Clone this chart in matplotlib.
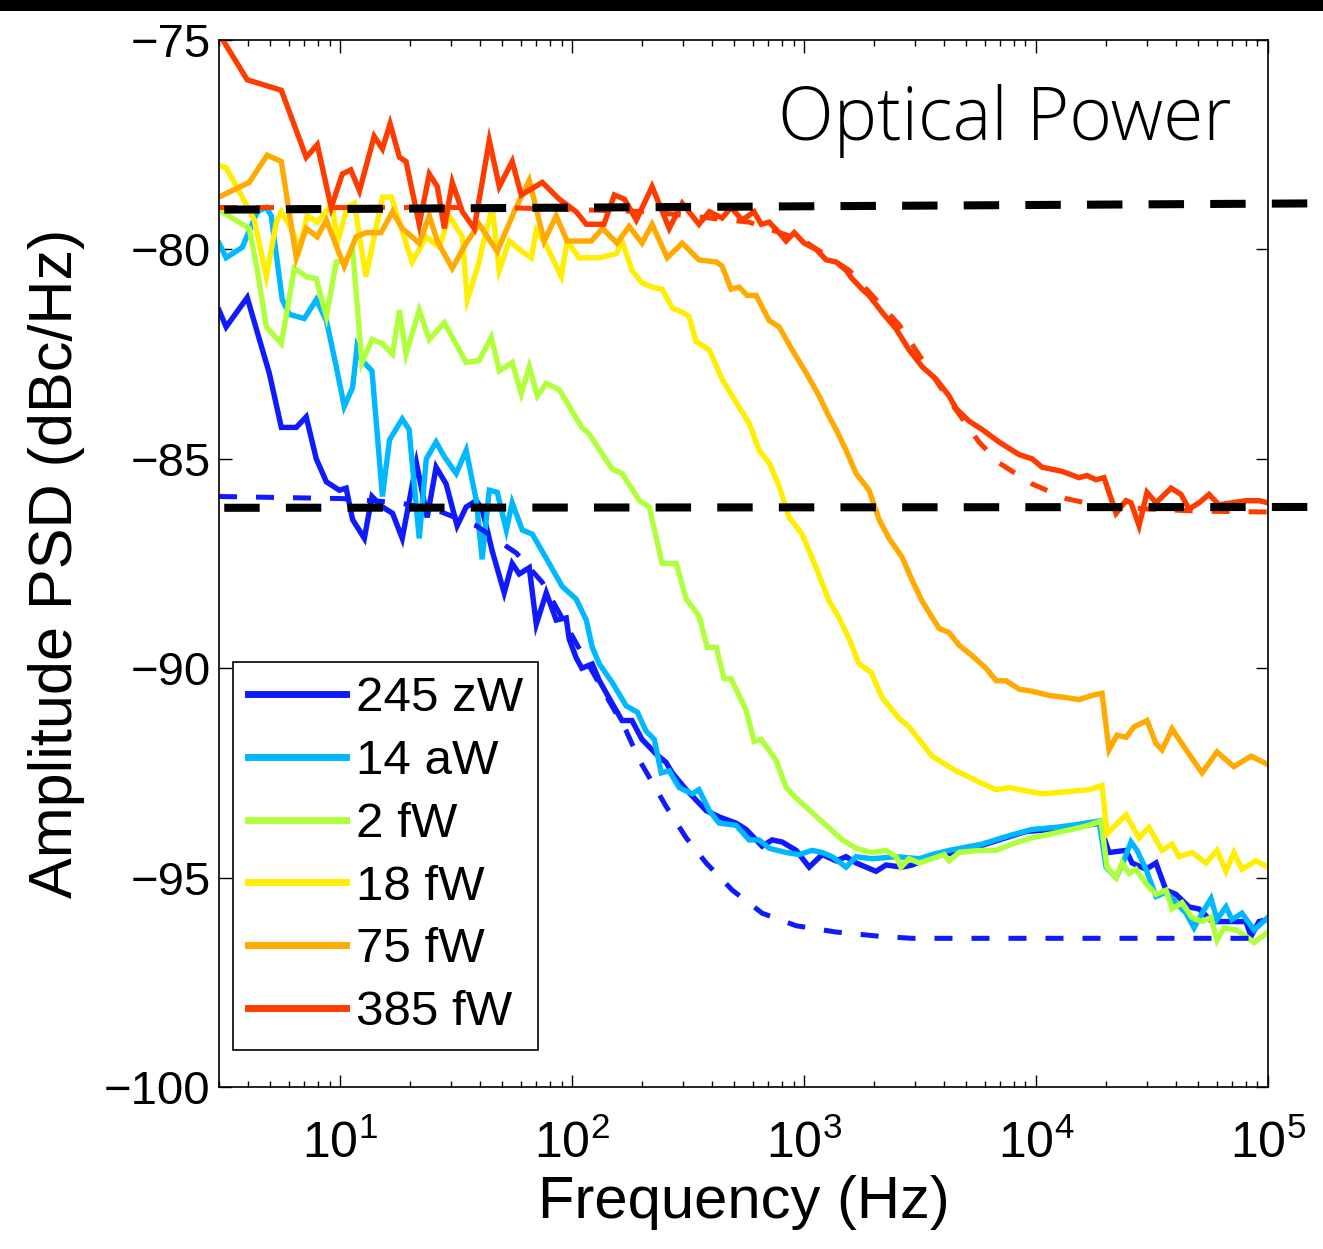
import matplotlib
matplotlib.use("Agg")
import matplotlib.pyplot as plt
from matplotlib.patches import Rectangle

plt.rcParams['font.family'] = ['Liberation Sans', 'DejaVu Sans']
plt.rcParams['mathtext.fontset'] = 'custom'
plt.rcParams['mathtext.rm'] = 'Liberation Sans'
plt.rcParams['mathtext.it'] = 'Liberation Sans:italic'
plt.rcParams['axes.unicode_minus'] = True

# 245 zW
f_245zw = [3.0, 3.22, 3.97, 4.48, 4.94, 5.57, 6.46, 7.13, 7.88, 8.71, 9.91, 10.6, 11.3, 12.7, 13.7, 15.2, 16.8,
           18.5, 21.3, 23.7, 25.9, 28.6, 31.9, 34.9, 38.6, 40.9, 45.2, 50.9, 55.1, 59.1, 65.3, 70.0, 77.3, 85.3,
           94.2, 97.0, 104, 110, 122, 131, 149, 164, 181, 200, 230, 254, 270, 310, 378, 430, 509, 562, 659, 728,
           804, 924, 1051, 1196, 1374, 1517, 1675, 2042, 2255, 2643, 2921, 3565, 4989, 6930, 9052, 11722, 14850,
           18690, 20640, 24430, 25930, 29790, 32900, 36330, 40110, 45640, 50460, 57370, 63320, 69940, 80360,
           84490, 91470, 100000]
db_245zw = [-81.45, -81.85, -81.15, -82.15, -82.95, -84.25, -84.25, -84.0, -85.0, -85.55, -85.75, -85.7, -86.45,
            -86.9, -85.9, -86.15, -86.3, -86.9, -85.1, -86.4, -85.2, -85.6, -86.6, -86.15, -86.0, -86.2, -87.2,
            -88.2, -87.5, -87.75, -87.6, -88.95, -88.2, -88.85, -88.8, -89.3, -89.75, -90.0, -89.9, -90.3, -90.85,
            -91.25, -91.25, -91.7, -92.05, -92.25, -92.5, -92.9, -93.4, -93.55, -93.7, -93.85, -94.25, -94.1,
            -94.15, -94.35, -94.75, -94.45, -94.6, -94.5, -94.65, -94.85, -94.7, -94.75, -94.7, -94.5, -94.35,
            -94.1, -93.9, -93.85, -93.8, -93.7, -94.4, -94.35, -94.65, -94.8, -94.65, -95.3, -95.4, -95.7, -95.75,
            -96.05, -96.05, -96.05, -96.05, -96.4, -96.05, -96.0]

# 14 aW
f_14aw = [3.0, 3.22, 3.78, 4.39, 4.80, 5.04, 5.62, 6.03, 7.00, 7.88, 8.71, 9.61, 10.4, 11.3, 11.8, 12.4, 13.7,
          15.2, 16.3, 18.5, 19.8, 21.9, 23.5, 25.9, 28.1, 31.6, 34.9, 38.6, 40.9, 43.9, 47.5, 52.0, 55.1, 60.9,
          67.3, 79.6, 90.6, 104, 115, 122, 131, 149, 171, 191, 208, 226, 242, 262, 289, 329, 352, 390, 430, 509,
          579, 640, 707, 836, 951, 1082, 1196, 1321, 1517, 1675, 1963, 2492, 3131, 3565, 4217, 5848, 7648, 9610,
          12190, 14280, 18690, 20040, 22130, 23480, 25670, 27240, 29790, 32900, 36330, 40110, 44350, 47980,
          51980, 56800, 60250, 65880, 69940, 77200, 87050, 100000]
db_14aw = [-79.85, -80.2, -79.95, -79.1, -79.0, -79.2, -81.2, -81.55, -81.65, -81.2, -81.7, -82.8, -83.75, -83.3,
           -82.35, -82.65, -82.9, -85.9, -84.55, -84.05, -84.3, -86.9, -85.0, -84.6, -84.95, -85.35, -84.8, -86.0,
           -87.4, -85.75, -85.8, -86.7, -86.05, -86.7, -86.8, -87.5, -88.05, -88.35, -88.85, -89.5, -89.9, -90.35,
           -90.9, -91.05, -91.5, -91.7, -92.5, -92.45, -92.85, -93.0, -92.9, -93.4, -93.7, -93.75, -94.1, -94.1,
           -94.3, -94.4, -94.45, -94.35, -94.4, -94.5, -94.75, -94.5, -94.55, -94.5, -94.55, -94.45, -94.35,
           -94.2, -94.0, -93.85, -93.8, -93.75, -93.65, -94.75, -95.0, -94.7, -94.15, -94.35, -94.8, -95.45,
           -95.35, -95.6, -95.85, -96.2, -95.85, -95.5, -96.0, -95.7, -96.0, -95.85, -96.25, -95.95]

# 2 fW
f_2fw = [3.0, 3.42, 4.05, 4.39, 4.80, 5.57, 6.34, 7.13, 7.88, 8.71, 9.61, 10.6, 11.3, 12.4, 13.7, 15.2, 16.8,
         18.0, 19.2, 21.9, 24.2, 28.1, 34.9, 39.7, 44.8, 48.5, 55.1, 60.3, 65.3, 70.7, 77.3, 87.9, 110, 118,
         149, 164, 195, 215, 244, 281, 310, 352, 382, 418, 452, 484, 562, 608, 653, 757, 836, 924, 1082, 1245,
         1459, 1675, 1963, 2255, 2492, 2619, 2835, 3131, 3565, 4013, 4217, 4656, 5675, 6724, 7880, 9610, 11722,
         14280, 16920, 19060, 20240, 22130, 23480, 25180, 26970, 29790, 32900, 36330, 38570, 42590, 47020,
         51980, 56800, 60250, 64590, 72710, 80360, 87050, 100000]
db_2fw = [-79.05, -79.25, -79.5, -80.5, -81.85, -82.25, -80.45, -80.65, -80.7, -81.6, -80.3, -80.25, -80.0, -82.7,
          -82.15, -82.25, -82.5, -81.45, -82.5, -81.45, -82.15, -81.75, -82.7, -82.65, -82.1, -82.9, -82.7, -83.45,
          -82.8, -83.5, -83.2, -83.35, -84.25, -84.4, -85.25, -85.35, -86.0, -86.15, -87.5, -87.5, -88.35, -88.75,
          -89.5, -89.5, -90.25, -90.25, -91.0, -91.75, -91.7, -92.2, -92.85, -93.1, -93.45, -93.75, -94.1, -94.3,
          -94.4, -94.35, -94.5, -94.75, -94.55, -94.65, -94.55, -94.45, -94.6, -94.4, -94.35, -94.35, -94.2,
          -94.05, -93.95, -93.85, -93.75, -93.65, -94.75, -95.0, -94.65, -94.9, -94.8, -95.15, -95.4, -95.3,
          -95.75, -95.6, -95.95, -96.05, -95.95, -96.5, -96.2, -96.25, -96.4, -96.55, -96.3]

# 18 fW
f_18fw = [3.0, 3.22, 3.78, 4.26, 4.80, 5.30, 5.57, 6.15, 6.66, 7.20, 7.96, 9.24, 9.71, 10.7, 11.5, 12.9, 14.0,
          15.2, 16.6, 18.0, 20.4, 23.5, 26.7, 29.5, 33.6, 35.3, 39.7, 40.9, 45.2, 48.5, 53.5, 59.1, 66.6, 70.0,
          77.3, 89.7, 95.1, 107, 131, 155, 164, 181, 200, 221, 244, 270, 298, 319, 342, 390, 443, 509, 579, 640,
          707, 780, 861, 980, 1127, 1282, 1416, 1563, 1726, 1945, 2168, 2567, 2835, 3226, 3565, 3936, 4519, 5141,
          5848, 6724, 7648, 10612, 13460, 16920, 19250, 20240, 24430, 27800, 30700, 34930, 38570, 41320, 47020,
          54060, 60250, 65880, 71290, 77200, 88800, 100000]
db_18fw = [-78.0, -78.05, -78.75, -79.3, -80.65, -79.35, -79.1, -79.5, -80.0, -79.2, -79.35, -78.9, -79.85, -79.0,
           -78.9, -80.65, -79.7, -78.75, -78.75, -79.35, -80.3, -79.7, -79.95, -79.2, -79.7, -81.2, -80.3, -79.95,
           -79.0, -80.5, -79.8, -80.0, -80.2, -79.55, -79.9, -80.65, -79.8, -80.2, -80.2, -80.1, -79.8, -80.5,
           -80.8, -80.9, -80.95, -81.4, -81.5, -81.6, -82.2, -82.4, -83.1, -83.65, -84.15, -84.8, -85.1, -85.65,
           -86.4, -86.8, -87.6, -88.4, -88.8, -89.3, -89.9, -90.1, -90.7, -91.2, -91.4, -91.8, -92.1, -92.25,
           -92.45, -92.6, -92.75, -92.9, -92.85, -93.0, -92.95, -92.9, -92.8, -93.95, -93.5, -94.05, -93.8, -94.35,
           -94.2, -94.5, -94.4, -94.65, -94.35, -94.85, -94.4, -94.8, -94.6, -94.75]

# 75 fW
f_75fw = [3.0, 4.05, 4.84, 5.57, 6.46, 7.13, 7.96, 8.71, 10.4, 11.7, 12.9, 15.0, 16.8, 18.5, 21.9, 24.2, 26.2,
          30.4, 34.9, 39.7, 47.5, 56.2, 65.3, 75.7, 85.3, 95.1, 121, 135, 156, 176, 200, 221, 257, 298, 352, 418,
          443, 484, 525, 568, 621, 707, 780, 888, 1020, 1161, 1282, 1374, 1517, 1675, 1905, 2104, 2323, 2643,
          2921, 3226, 3820, 4217, 4656, 5297, 6083, 6724, 7423, 8446, 9610, 11372, 13460, 15310, 17430, 19250,
          20640, 22340, 24430, 26440, 30090, 32900, 34930, 38570, 44350, 51980, 60250, 71290, 84490, 100000]
db_75fw = [-78.75, -78.4, -77.75, -77.9, -80.2, -79.5, -79.7, -79.3, -80.4, -79.7, -79.6, -79.6, -79.1, -79.5,
           -79.85, -79.2, -79.8, -80.45, -79.85, -79.4, -80.05, -79.1, -78.35, -79.8, -79.2, -79.8, -79.8, -79.5,
           -79.85, -79.45, -79.85, -79.4, -80.2, -79.85, -80.25, -80.3, -80.4, -80.95, -80.9, -81.1, -81.1,
           -81.7, -81.85, -82.4, -82.95, -83.5, -84.0, -84.3, -84.8, -85.35, -85.75, -86.45, -86.9, -87.35, -87.9,
           -88.4, -89.05, -89.15, -89.45, -89.7, -90.0, -90.3, -90.3, -90.5, -90.55, -90.65, -90.7, -90.75, -90.65,
           -90.6, -91.95, -91.6, -91.65, -91.4, -91.25, -91.8, -91.95, -91.45, -91.95, -92.5, -92.0, -92.35, -92.1,
           -92.3]

# 385 fW
f_385fw = [3.0, 3.97, 5.57, 7.13, 7.96, 9.14, 10.2, 11.1, 12.1, 14.0, 15.2, 16.4, 18.0, 19.2, 21.9, 24.2, 26.2,
           28.1, 30.4, 33.6, 37.8, 43.9, 48.5, 55.1, 60.3, 74.3, 87.9, 104, 115, 137, 152, 168, 189, 221, 262,
           298, 352, 390, 443, 484, 541, 608, 653, 707, 780, 836, 906, 1000, 1127, 1245, 1374, 1517, 1611, 1778,
           1905, 2168, 2492, 2835, 3226, 3707, 4217, 4519, 5141, 5848, 6930, 8446, 9610, 10612, 12940, 15310,
           16590, 18140, 19630, 22130, 24430, 25670, 27800, 30090, 32900, 38190, 42170, 45640, 50460, 55680,
           61460, 69940, 80360, 91470, 100000]
db_385fw = [-74.85, -75.95, -76.2, -77.8, -77.5, -79.0, -78.2, -78.1, -78.6, -77.3, -77.6, -77.0, -77.8, -77.9,
            -79.4, -78.2, -78.5, -79.5, -78.4, -79.1, -79.5, -77.4, -78.5, -77.9, -78.7, -78.4, -78.8, -79.1,
            -79.4, -79.4, -78.7, -78.8, -79.3, -78.5, -79.5, -78.9, -79.4, -79.1, -79.25, -79.0, -79.3, -79.1,
            -79.4, -79.35, -79.6, -79.8, -79.6, -79.85, -80.0, -80.25, -80.3, -80.5, -80.7, -80.95, -81.1, -81.5,
            -81.9, -82.4, -82.8, -83.1, -83.5, -83.8, -84.1, -84.3, -84.6, -84.9, -85.0, -85.2, -85.3, -85.45,
            -85.4, -85.5, -85.45, -86.3, -86.0, -86.05, -86.6, -85.8, -86.05, -85.7, -85.85, -86.2, -86.05, -85.85,
            -86.1, -86.05, -86.0, -86.0, -86.05]

# fits (dashed)
f_fit_385 = [3.0, 48.5, 215, 579, 1000, 1563, 2567, 4217, 5675, 6930, 9610, 13460, 18690, 30700, 50460, 100000]
db_fit_385 = [-79.0, -79.0, -79.1, -79.35, -79.8, -80.5, -81.8, -83.6, -84.6, -85.1, -85.6, -85.95, -86.12,
              -86.2, -86.25, -86.27]
f_fit_245 = [3.0, 10.2, 18.0, 26.7, 38.6, 57.4, 74.3, 104, 171, 195, 254, 310, 378, 490, 659, 924, 1374, 2104,
             2921, 100000]
db_fit_245 = [-85.9, -85.95, -86.05, -86.25, -86.6, -87.25, -87.95, -89.4, -91.5, -92.2, -93.3, -94.05, -94.65,
              -95.3, -95.85, -96.15, -96.3, -96.4, -96.45, -96.45]

# black reference levels
f_ref = [3.16, 175000]
db_ref_high = [-79.05, -78.9]
db_ref_low = [-86.17, -86.15]

labels = ["245 zW", "14 aW", "2 fW", "18 fW", "75 fW", "385 fW"]
colors = ["#0f1aff", "#00b8ff", "#b0ff3c", "#ffee00", "#ffaa00", "#ff3c00"]
series = [(f_245zw, db_245zw), (f_14aw, db_14aw), (f_2fw, db_2fw),
          (f_18fw, db_18fw), (f_75fw, db_75fw), (f_385fw, db_385fw)]

fig = plt.figure(figsize=(13.23, 12.49), dpi=100)
ax = fig.add_axes([219 / 1323, 1 - 1087 / 1249, 1049 / 1323, 1047 / 1249])

for (f, db), lab, col in zip(series, labels, colors):
    ax.plot(f, db, color=col, lw=3.9, label=lab, solid_joinstyle='miter')

ax.plot(f_fit_245, db_fit_245, color=colors[0], lw=3.6, dashes=(3.6, 3.8))
ax.plot(f_fit_385, db_fit_385, color=colors[5], lw=3.6, dashes=(3.6, 3.8))

ax.plot(f_ref, db_ref_high, color='black', lw=5.8, dashes=(4.4, 3.25), clip_on=False, zorder=5)
ax.plot(f_ref, db_ref_low, color='black', lw=5.8, dashes=(4.4, 3.25), clip_on=False, zorder=5)

ax.set_xscale('log')
ax.set_xlim(3, 1e5)
ax.set_ylim(-100, -75)
ax.set_yticks([-100, -95, -90, -85, -80, -75])
ax.tick_params(which='both', direction='in', top=True, right=True, labelsize=34, width=1.0)
ax.tick_params(which='major', length=9)
ax.tick_params(which='minor', length=4.5)
ax.tick_params(axis='x', pad=24, labelsize=36)
ax.tick_params(axis='y', pad=6)
for s in ax.spines.values():
    s.set_linewidth(1.2)

ax.set_xlabel("Frequency (Hz)", fontsize=43, labelpad=5)
ax.set_ylabel("Amplitude PSD (dBc/Hz)", fontsize=44, labelpad=14)

leg = ax.legend(loc='lower left', bbox_to_anchor=(14 / 1049, 37 / 1047), fontsize=35.5, frameon=True,
                fancybox=False, edgecolor='black', framealpha=1, handlelength=2.0, handletextpad=0.2,
                borderpad=0.3, labelspacing=0.36, borderaxespad=0)
leg.get_frame().set_linewidth(1.2)
for h in leg.get_lines():
    h.set_linewidth(5)

fig.text(778 / 1323, 1 - 140 / 1249, "Optical Power", fontsize=52.5, family=['Open Sans', 'DejaVu Sans'],
         weight='light', ha='left', va='baseline')

fig.patches.append(Rectangle((0, 1 - 11 / 1249), 1, 11 / 1249, transform=fig.transFigure,
                             facecolor='black', edgecolor='none'))

fig.savefig("out.png", dpi=100)
